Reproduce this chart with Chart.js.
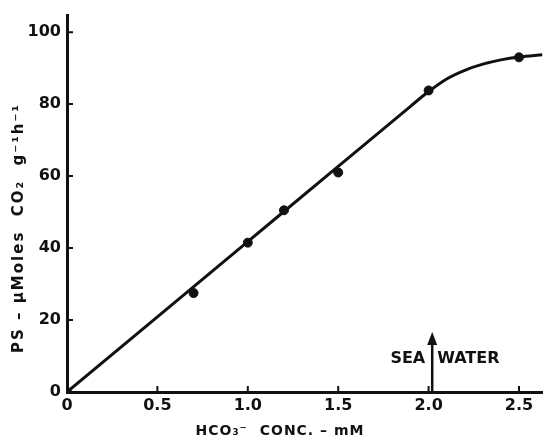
<!DOCTYPE html>
<html>
<head>
<meta charset="utf-8">
<script src="https://cdn.jsdelivr.net/npm/chart.js@4.4.1/dist/chart.umd.min.js"></script>
<style>
  html, body { margin: 0; padding: 0; background: #fff; }
  #wrap { width: 548px; height: 445px; }
</style>
</head>
<body>
<div id="wrap"><canvas id="chart" width="548" height="445"></canvas></div>
<script>
// measured points
const pointX = [0, 0.7, 1.0, 1.2, 1.5, 2.0, 2.5];
const pointY = [0, 27.5, 41.5, 50.5, 61, 83.8, 93];

// fitted curve
const curveX = [0, 1.0, 1.5, 1.8, 1.9, 2.0, 2.1, 2.2, 2.3, 2.4, 2.5, 2.63];
const curveY = [0, 41.8, 62.7, 75.2, 79.4, 83.5, 87.0, 89.4, 91.1, 92.3, 93.1, 93.7];

const xTicks = [0, 0.5, 1.0, 1.5, 2.0, 2.5];
const yTicks = [0, 20, 40, 60, 80, 100];

const xTitle = 'HCO\u2083\u207B  CONC. \u2013 mM';
const yTitle = 'PS \u2013 \u03BCMoles  CO\u2082  g\u207B\u00B9h\u207B\u00B9';

// sea water arrow
const seaWaterX = 2.02;
const seaWaterTop = 16.7;

const FONT = '"DejaVu Sans", sans-serif';
const ink = '#111';

const decorations = {
    id: 'decorations',
    afterDraw(chart) {
        const ctx = chart.ctx;
        const xs = chart.scales.x, ys = chart.scales.y;
        ctx.save();
        ctx.strokeStyle = ink;
        ctx.fillStyle = ink;
        ctx.lineWidth = 2;
        ctx.beginPath();
        xTicks.forEach(v => {
            if (v === 0) return;
            const px = xs.getPixelForValue(v);
            ctx.moveTo(px, ys.bottom);
            ctx.lineTo(px, ys.bottom - 6);
        });
        yTicks.forEach(v => {
            if (v === 0) return;
            const py = ys.getPixelForValue(v);
            ctx.moveTo(xs.left, py);
            ctx.lineTo(xs.left + 6, py);
        });
        ctx.stroke();

        // arrow + label
        const ax = xs.getPixelForValue(seaWaterX);
        const y0 = ys.getPixelForValue(0);
        const y1 = ys.getPixelForValue(seaWaterTop);
        ctx.lineWidth = 2.5;
        ctx.beginPath();
        ctx.moveTo(ax, y0);
        ctx.lineTo(ax, y1 + 6);
        ctx.stroke();
        ctx.beginPath();
        ctx.moveTo(ax, y1);
        ctx.lineTo(ax - 5, y1 + 13);
        ctx.lineTo(ax + 5, y1 + 13);
        ctx.closePath();
        ctx.fill();
        ctx.font = 'bold 16px ' + FONT;
        ctx.textBaseline = 'middle';
        const ty = y1 + 27;
        ctx.textAlign = 'right';
        ctx.fillText('SEA', ax - 7, ty);
        ctx.textAlign = 'left';
        ctx.fillText('WATER', ax + 5, ty);

        // axis titles
        ctx.font = 'bold 14px ' + FONT;
        ctx.letterSpacing = '1px';
        ctx.textAlign = 'center';
        ctx.fillText(xTitle, 280, 431);

        ctx.font = 'bold 15px ' + FONT;
        ctx.letterSpacing = '2px';
        ctx.translate(19, 228);
        ctx.rotate(-Math.PI / 2);
        ctx.fillText(yTitle, 0, 0);
        ctx.restore();
    }
};

new Chart(document.getElementById('chart').getContext('2d'), {
    type: 'scatter',
    data: {
        datasets: [{
            type: 'line',
            data: curveX.map((x, i) => ({ x: x, y: curveY[i] })),
            borderColor: ink,
            borderWidth: 3,
            pointRadius: 0,
            fill: false,
            cubicInterpolationMode: 'monotone'
        }, {
            data: pointX.map((x, i) => ({ x: x, y: pointY[i] })),
            backgroundColor: ink,
            borderColor: ink,
            pointRadius: 4.5,
            pointStyle: 'circle'
        }]
    },
    options: {
        responsive: false,
        animation: false,
        layout: { padding: { left: 0, top: 3, right: 2, bottom: 0 } },
        plugins: { legend: { display: false }, tooltip: { enabled: false } },
        scales: {
            x: {
                type: 'linear',
                min: 0,
                max: 2.63,
                afterFit: s => { s.height = 53; },
                afterBuildTicks: s => { s.ticks = xTicks.map(v => ({ value: v })); },
                border: { color: ink, width: 3 },
                grid: { display: false, drawTicks: false },
                ticks: {
                    color: ink,
                    padding: 4,
                    font: { family: FONT, size: 16, weight: 'bold' },
                    callback: v => v === 0 ? '0' : v.toFixed(1)
                }
            },
            y: {
                min: 0,
                max: 104.6,
                afterFit: s => { s.width = 67; },
                afterBuildTicks: s => { s.ticks = yTicks.map(v => ({ value: v })); },
                border: { color: ink, width: 3 },
                grid: { display: false, drawTicks: false },
                ticks: {
                    color: ink,
                    padding: 6,
                    font: { family: FONT, size: 16, weight: 'bold' }
                }
            }
        }
    },
    plugins: [decorations]
});
</script>
</body>
</html>
